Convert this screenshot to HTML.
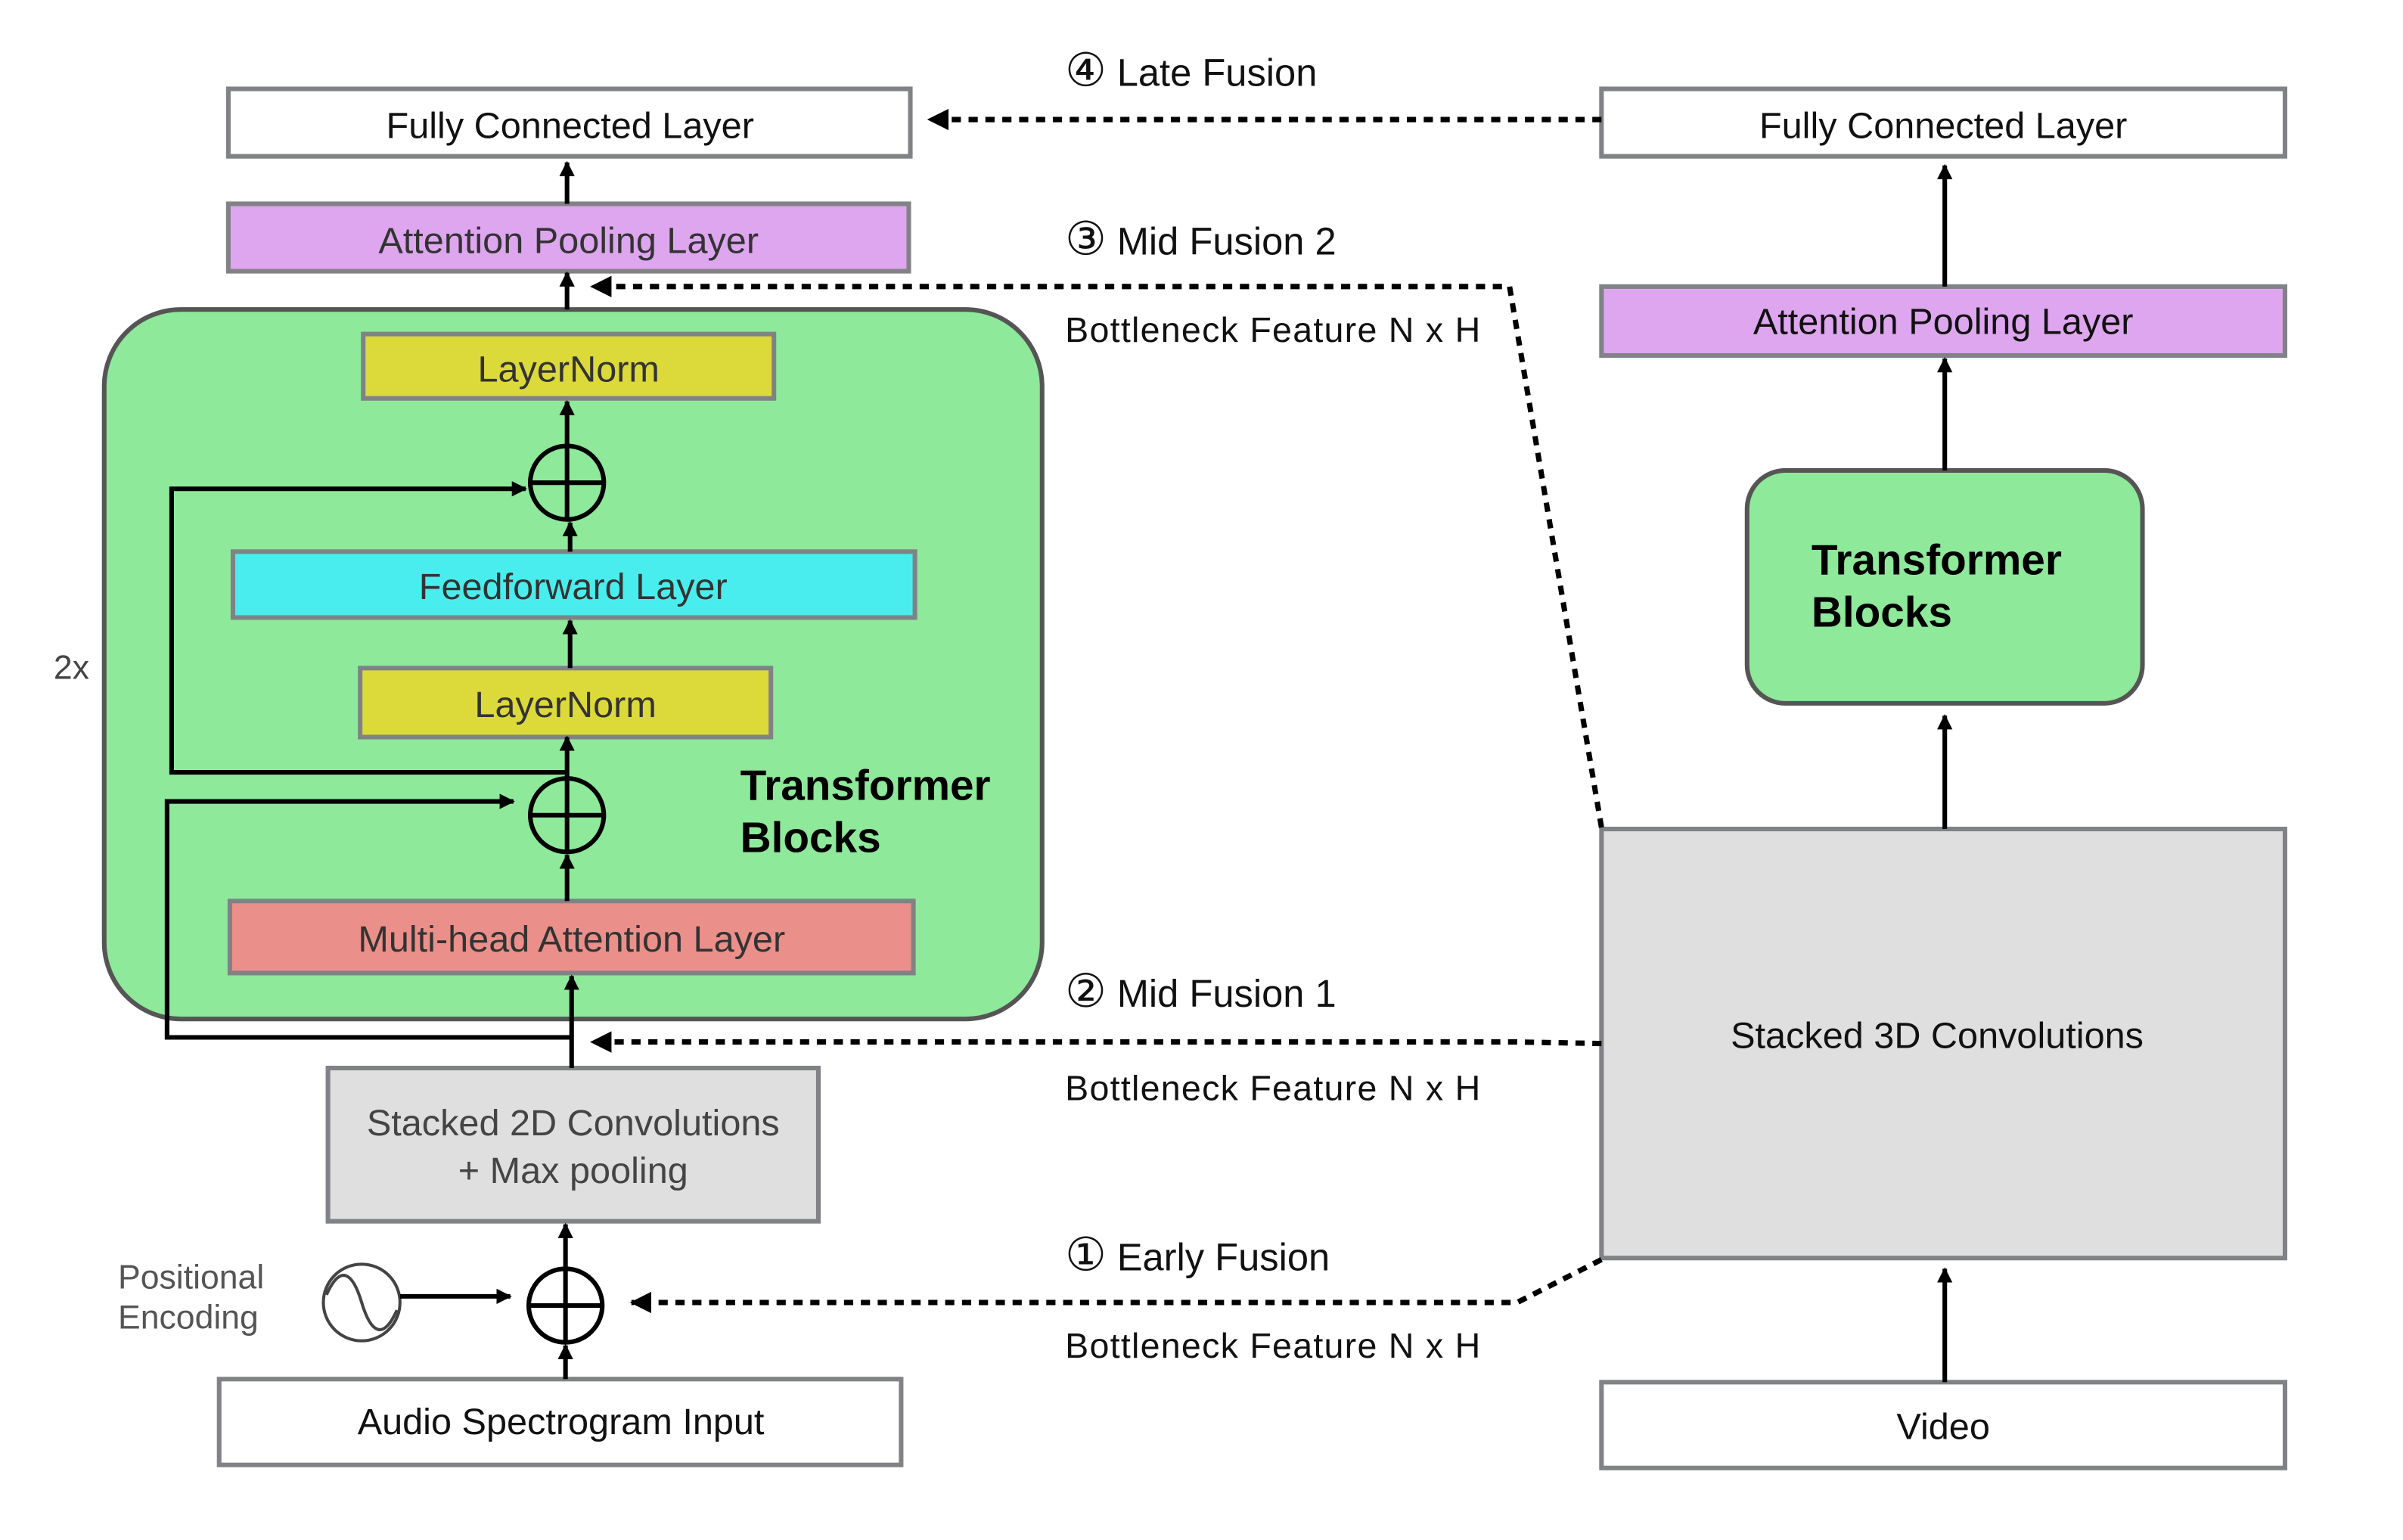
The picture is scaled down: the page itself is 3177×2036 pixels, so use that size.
<!DOCTYPE html>
<html><head><meta charset="utf-8"><style>
html,body{margin:0;padding:0;background:#fff;}
svg{display:block;}
text{font-family:"Liberation Sans",sans-serif;}
</style></head><body>
<svg width="3177" height="2036" viewBox="0 0 1568 1005" preserveAspectRatio="none" xmlns="http://www.w3.org/2000/svg">
<defs>
<marker id="a" markerWidth="10" markerHeight="10" refX="9" refY="5" orient="auto" markerUnits="userSpaceOnUse" viewBox="0 0 10 10"><path d="M0,0 L10,5 L0,10 z" fill="#000"/></marker>
<marker id="b" markerWidth="14" markerHeight="14" refX="13" refY="7" orient="auto" markerUnits="userSpaceOnUse" viewBox="0 0 14 14"><path d="M0,0 L14,7 L0,14 z" fill="#000"/></marker>
</defs>
<g stroke="#808285" stroke-width="3">
<rect x="149" y="58" width="445" height="44" fill="#fff"/>
<rect x="149" y="133" width="444" height="44" fill="#dea6ef"/>
<rect x="68" y="202" width="612" height="463" rx="50" fill="#8ee99b" stroke="#555"/>
<rect x="237" y="218" width="268" height="42" fill="#dcd93a"/>
<rect x="152" y="360" width="445" height="43" fill="#4aeded"/>
<rect x="235" y="436" width="268" height="45" fill="#dcd93a"/>
<rect x="150" y="588" width="446" height="47" fill="#eb8f8a"/>
<rect x="214" y="697" width="320" height="100" fill="#dfdfe0"/>
<rect x="143" y="900" width="445" height="56" fill="#fff"/>
<rect x="1045" y="58" width="446" height="44" fill="#fff"/>
<rect x="1045" y="187" width="446" height="45" fill="#dea6ef"/>
<rect x="1140" y="307" width="258" height="152" rx="25" fill="#8ee99b" stroke="#555"/>
<rect x="1045" y="541" width="446" height="280" fill="#dfdfe0"/>
<rect x="1045" y="902" width="446" height="56" fill="#fff"/>
</g>
<g font-size="24" text-anchor="middle" fill="#111">
<text x="372" y="90">Fully Connected Layer</text>
<text x="371" y="165" fill="#333">Attention Pooling Layer</text>
<text x="371" y="249" fill="#333">LayerNorm</text>
<text x="374" y="391" fill="#333">Feedforward Layer</text>
<text x="369" y="468" fill="#333">LayerNorm</text>
<text x="373" y="621" fill="#333">Multi-head Attention Layer</text>
<text x="374" y="741" fill="#444">Stacked 2D Convolutions</text>
<text x="374" y="772" fill="#444">+ Max pooling</text>
<text x="366" y="936">Audio Spectrogram Input</text>
<text x="1268" y="90">Fully Connected Layer</text>
<text x="1268" y="218">Attention Pooling Layer</text>
<text x="1264" y="684">Stacked 3D Convolutions</text>
<text x="1268" y="939">Video</text>
</g>
<g font-size="28" font-weight="bold" fill="#000">
<text x="483" y="522">Transformer</text><text x="483" y="556">Blocks</text>
<text x="1182" y="375">Transformer</text><text x="1182" y="409">Blocks</text>
</g>
<text x="35" y="443" font-size="22" fill="#444">2x</text>
<text x="77" y="841" font-size="22" fill="#555">Positional</text>
<text x="77" y="867" font-size="22" fill="#555">Encoding</text>
<g font-size="25" fill="#111">
<text x="695" y="56"><tspan font-size="30">④</tspan> Late Fusion</text>
<text x="695" y="166"><tspan font-size="30">③</tspan> Mid Fusion 2</text>
<text x="695" y="657"><tspan font-size="30">②</tspan> Mid Fusion 1</text>
<text x="695" y="829"><tspan font-size="30">①</tspan> Early Fusion</text>
</g>
<g font-size="23" fill="#111">
<text x="695" y="223" textLength="271">Bottleneck Feature N x H</text>
<text x="695" y="718" textLength="271">Bottleneck Feature N x H</text>
<text x="695" y="886" textLength="271">Bottleneck Feature N x H</text>
</g>
<g fill="none" stroke="#000" stroke-width="3">
<circle cx="370" cy="315" r="24"/><path d="M346,315H394M370,291V339"/>
<circle cx="370" cy="532" r="24"/><path d="M346,532H394M370,508V556"/>
<circle cx="369" cy="852" r="24"/><path d="M345,852H393M369,828V876"/>
<circle cx="236" cy="850" r="25" stroke="#444" stroke-width="2"/>
<path d="M213,845 C222,825 230,830 236,850 C242,870 250,875 259,855" stroke="#444" stroke-width="2"/>
<path d="M261,846H333" marker-end="url(#a)"/>
<path d="M370,133V106" marker-end="url(#a)"/>
<path d="M370,202V178" marker-end="url(#a)"/>
<path d="M370,291V262" marker-end="url(#a)"/>
<path d="M372,360V341" marker-end="url(#a)"/>
<path d="M372,436V405" marker-end="url(#a)"/>
<path d="M370,508V481" marker-end="url(#a)"/>
<path d="M370,588V558" marker-end="url(#a)"/>
<path d="M373,697V637" marker-end="url(#a)"/>
<path d="M369,828V799" marker-end="url(#a)"/>
<path d="M369,900V878" marker-end="url(#a)"/>
<path d="M370,504H112V319H343" marker-end="url(#a)"/>
<path d="M373,677H109V523H335" marker-end="url(#a)"/>
<path d="M1269,187V108" marker-end="url(#a)"/>
<path d="M1269,307V234" marker-end="url(#a)"/>
<path d="M1269,541V467" marker-end="url(#a)"/>
<path d="M1269,902V828" marker-end="url(#a)"/>
</g>
<g fill="none" stroke="#000" stroke-width="3.5" stroke-dasharray="6,5">
<path d="M1045,78H606" marker-end="url(#b)"/>
<path d="M1045,540L985,187H386" marker-end="url(#b)"/>
<path d="M1045,681L990,680H386" marker-end="url(#b)"/>
<path d="M1045,822L990,850H412" marker-end="url(#b)"/>
</g>
</svg>
</body></html>
